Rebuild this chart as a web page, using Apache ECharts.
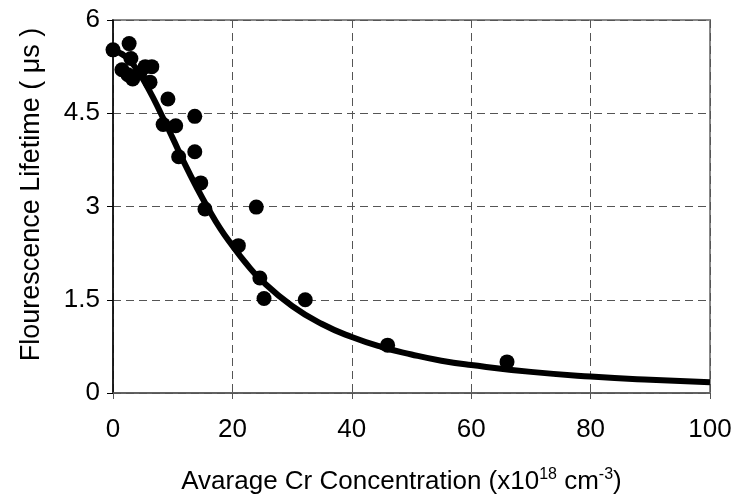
<!DOCTYPE html>
<html><head><meta charset="utf-8">
<script src="https://cdn.jsdelivr.net/npm/echarts@6/dist/echarts.min.js"></script>
<style>html,body{margin:0;padding:0;background:#fff}#c{width:736px;height:502px}</style>
</head><body><div id="c"></div>
<script>
// Measured points (x: Cr concentration 1e18 cm^-3, y: lifetime µs)
var pointX = [0, 2.7, 1.5, 2.5, 3.0, 3.3, 4.5, 5.4, 6.5, 6.2, 8.4, 9.2, 10.5, 11.0, 13.7, 13.7, 14.7, 15.4, 21.0, 24.0, 24.6, 25.3, 32.2, 46.0, 66.0];
var pointY = [5.52, 5.62, 5.2, 5.12, 5.38, 5.05, 5.15, 5.25, 5.25, 5.0, 4.32, 4.73, 4.3, 3.8, 4.45, 3.88, 3.38, 2.96, 2.37, 2.99, 1.85, 1.52, 1.5, 0.77, 0.5];
// Fitted curve
var fitX = [0, 2, 4, 6, 8, 10, 12, 14, 16, 18, 20, 22, 25, 30, 35, 40, 45, 50, 55, 60, 70, 80, 90, 100];
var fitY = [5.5, 5.42, 5.2, 4.88, 4.5, 4.1, 3.69, 3.31, 2.96, 2.64, 2.37, 2.12, 1.8, 1.4, 1.11, 0.9, 0.74, 0.62, 0.52, 0.45, 0.34, 0.265, 0.212, 0.173];
var yTicks = [0, 1.5, 3, 4.5, 6];
var xTicks = [0, 20, 40, 60, 80, 100];

var ch = echarts.init(document.getElementById('c'), null, {renderer: 'canvas'});
var font = 'Liberation Sans, Arial, sans-serif';
function zip(a, b) { return a.map(function (v, i) { return [v, b[i]]; }); }
ch.setOption({
  animation: false,
  backgroundColor: '#fff',
  grid: {left: 113, right: 26, top: 20, bottom: 107, show: true, borderColor: '#888', borderWidth: 2},
  xAxis: {
    type: 'value', min: xTicks[0], max: xTicks[xTicks.length - 1], interval: 20,
    name: 'Avarage Cr Concentration (x10{sup|18} cm{sup|-3})',
    nameLocation: 'middle', nameGap: 74,
    nameTextStyle: {fontFamily: font, fontSize: 26, color: '#000', lineHeight: 30, padding: [0, 20, 0, 0],
      rich: {sup: {fontFamily: font, fontSize: 16, color: '#000', verticalAlign: 'top', lineHeight: 18, padding: [0, 0, 12, 0]}}},
    axisLine: {show: true, onZero: false, lineStyle: {color: '#555', width: 1.5}},
    axisTick: {show: true, length: 6, lineStyle: {color: '#555'}},
    axisLabel: {fontFamily: font, fontSize: 26, color: '#000', margin: 24},
    splitLine: {show: true, lineStyle: {color: '#555', type: [8, 5], width: 1}}
  },
  yAxis: {
    type: 'value', min: yTicks[0], max: yTicks[yTicks.length - 1], interval: 1.5,
    name: 'Flourescence Lifetime ( μs )', nameLocation: 'middle', nameGap: 68, nameRotate: 90,
    nameTextStyle: {fontFamily: font, fontSize: 27, color: '#000', padding: [0, 0, 0, 24]},
    axisLine: {show: true, onZero: false, lineStyle: {color: '#000', width: 1.5}},
    axisTick: {show: true, length: 6, lineStyle: {color: '#000'}},
    axisLabel: {fontFamily: font, fontSize: 26, color: '#000', margin: 13,
      formatter: function (v) { return String(v); }},
    splitLine: {show: true, lineStyle: {color: '#555', type: [8, 5], width: 1}}
  },
  series: [
    {type: 'line', data: zip(fitX, fitY), showSymbol: false, smooth: true,
     lineStyle: {color: '#000', width: 6}, z: 2},
    {type: 'scatter', data: zip(pointX, pointY), symbol: 'circle', symbolSize: 15,
     itemStyle: {color: '#000', opacity: 1}, z: 3}
  ]
});
</script></body></html>
